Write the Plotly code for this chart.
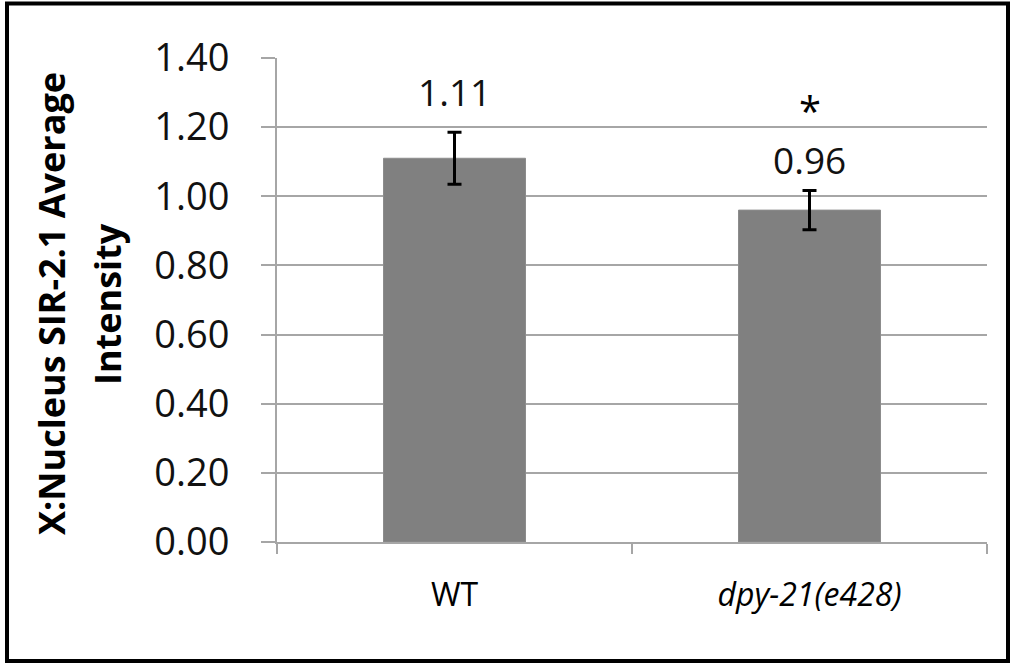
import plotly.graph_objects as go

# ---- data ----
categories = ["WT", "dpy-21(e428)"]
tick_labels = ["WT", "<i>dpy-21(e428)</i>"]
values = [1.11, 0.96]
errors = [0.075, 0.057]
value_labels = ["1.11", "0.96"]
significance = ["", "*"]
y_ticks = [0.0, 0.2, 0.4, 0.6, 0.8, 1.0, 1.2, 1.4]
y_tick_labels = ["0.00", "0.20", "0.40", "0.60", "0.80", "1.00", "1.20", "1.40"]
title_lines = ["X:Nucleus SIR-2.1 Average", "Intensity"]

# ---- layout geometry (pixels) ----
W, H = 1013, 663
L, R, T, B = 277, 26, 58, 121
PW, PH = W - L - R, H - T - B


def px_x(px):
    return (px - L) / PW


def px_y(py):
    return (H - B - py) / PH


FONT = "Open Sans"
GRID = "#a6a6a6"

fig = go.Figure()
fig.add_trace(go.Bar(
    x=categories,
    y=values,
    width=0.4,
    marker=dict(color="#808080", line=dict(color="#8c8c8c", width=1)),
    error_y=dict(type="data", array=errors, visible=True,
                 color="black", thickness=3, width=7),
    hoverinfo="skip",
))

annotations = []
label_shift = [41, 31]
for i, c in enumerate(categories):
    annotations.append(dict(
        x=c, y=values[i] + errors[i], xref="x", yref="y",
        text=value_labels[i], showarrow=False, yanchor="middle",
        yshift=label_shift[i], font=dict(family=FONT, size=37, color="#111111"),
    ))
    if significance[i]:
        annotations.append(dict(
            x=c, y=values[i] + errors[i], xref="x", yref="y",
            text=significance[i], showarrow=False, yanchor="middle",
            yshift=80, font=dict(family=FONT, size=40, color="black"),
        ))

title_x = [51, 107]
for i, t in enumerate(title_lines):
    annotations.append(dict(
        x=px_x(title_x[i]), y=px_y(304), xref="paper", yref="paper",
        text="<b>" + t + "</b>", showarrow=False, textangle=-90,
        xanchor="center", yanchor="middle",
        font=dict(family=FONT, size=36, color="black"),
    ))

fig.update_layout(
    width=W, height=H, autosize=False,
    margin=dict(l=L, r=R, t=T, b=B, pad=0),
    paper_bgcolor="white", plot_bgcolor="white",
    showlegend=False,
    annotations=annotations,
    shapes=[dict(
        type="rect", xref="paper", yref="paper",
        x0=px_x(7), x1=px_x(1008), y0=px_y(661), y1=px_y(3.5),
        line=dict(color="black", width=4), layer="above",
    )],
    xaxis=dict(
        type="category", categoryorder="array", categoryarray=categories,
        tickmode="array", tickvals=categories, ticktext=tick_labels,
        tickson="boundaries", ticks="outside", ticklen=10, tickwidth=2,
        tickcolor=GRID, showline=True, linecolor=GRID, linewidth=2,
        showgrid=False, zeroline=False, range=[-0.5, 1.5],
        tickfont=dict(family=FONT, size=32, color="black"),
        ticklabelstandoff=24,
    ),
    yaxis=dict(
        range=[0, 1.4], tickmode="array", tickvals=y_ticks, ticktext=y_tick_labels,
        ticks="outside", ticklen=14, tickwidth=2, tickcolor=GRID,
        showgrid=True, gridcolor=GRID, gridwidth=2,
        showline=True, linecolor=GRID, linewidth=2, zeroline=False,
        tickfont=dict(family=FONT, size=38, color="#111111"),
        ticklabelstandoff=24,
    ),
)

fig.write_html("out.html")
